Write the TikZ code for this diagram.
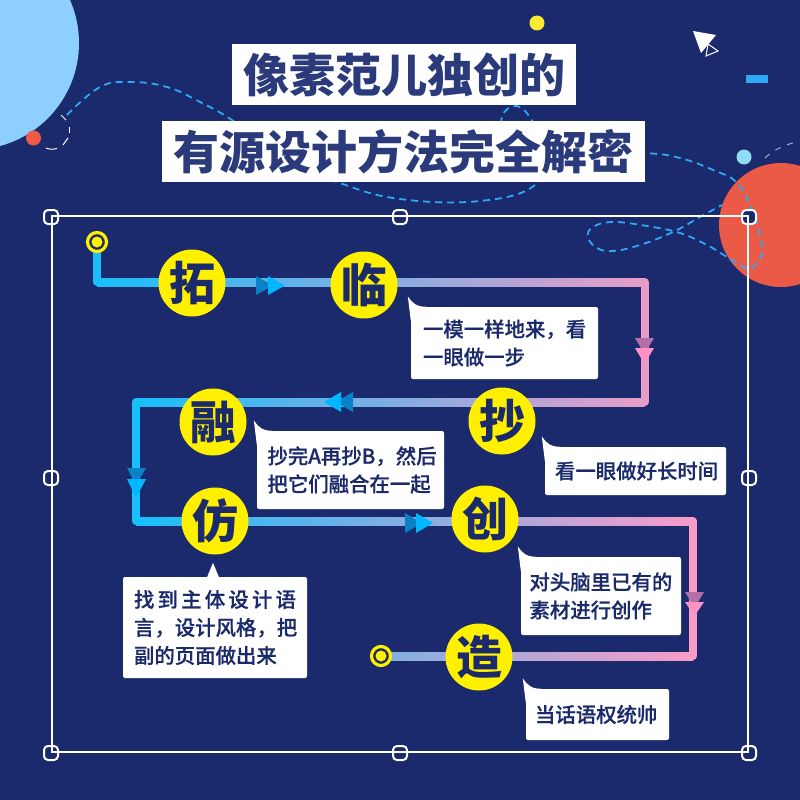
\documentclass[tikz,border=0pt]{standalone}
\usepackage{fontspec}
\setmainfont{Noto Sans CJK SC}
\newfontfamily\cjkmed[FakeBold=0.5]{Noto Sans CJK SC Medium}
\usetikzlibrary{calc}
\definecolor{bg}{HTML}{1A2A6C}
\definecolor{ink}{HTML}{1B2A6B}
\definecolor{titleink}{HTML}{2B3A7A}
\definecolor{ylw}{HTML}{FFF000}
\definecolor{cyanl}{HTML}{18BFFA}
\definecolor{pinka}{HTML}{E89CC8}
\definecolor{pinkb}{HTML}{F99CC8}
\definecolor{midb}{HTML}{7FB0E0}
\definecolor{darkarrow}{HTML}{0A82C8}
\definecolor{brightarrow}{HTML}{00B7FF}
\definecolor{darkpink}{HTML}{B56FA8}
\definecolor{brightpink}{HTML}{FF92C4}
\definecolor{dashblue}{HTML}{2FA8F5}
\definecolor{redc}{HTML}{EB5A46}
\definecolor{lightblue}{HTML}{8DCFFF}
\definecolor{dotred}{HTML}{EE5A45}
\definecolor{dotyellow}{HTML}{FFE932}
\definecolor{dotcyan}{HTML}{8EDCF5}
\tikzset{
  titlebox/.style={fill=white,inner sep=0pt,font=\fontsize{46}{46}\selectfont\bfseries,text=titleink},
  stepdot/.style={circle,fill=ylw,minimum size=67pt,inner sep=0pt,text=ink,font=\fontsize{46}{46}\selectfont\bfseries},
  endring/.style={circle,fill=bg,draw=ylw,minimum size=19pt,inner sep=0pt,line width=3.2pt},
  tipbox/.style={fill=white,rounded corners=2pt,inner sep=0pt,text=ink,align=left,font=\fontsize{20.4}{28}\selectfont\cjkmed},
  handle/.style={draw=white,fill=bg,line width=2pt,rounded corners=4pt,minimum size=14pt,inner sep=0pt},
  vline/.style={line width=8pt,line cap=round},
  dashc/.style={draw=dashblue,line width=1.8pt,dash pattern=on 7pt off 5pt},
  whitedash/.style={draw=white,line width=1pt},
}
\newcommand{\hgrad}[4]{\shade[left color=#3,right color=#4] ($(#1)+(0,-4)$) rectangle ($(#2)+(0,4)$);}
\newcommand{\tailof}[1]{\fill[white] ($(#1.north west)+(-3,-10.5)$) .. controls ($(#1.north west)+(2,-3)$) and ($(#1.north west)+(6,0)$) .. ($(#1.north west)+(16,0)$) -- ($(#1.north west)+(0,14)$) -- cycle;}
\begin{document}
\begin{tikzpicture}[x=1pt,y=-1pt]
\useasboundingbox (0,0) rectangle (800,800);
\fill[bg] (0,0) rectangle (800,800);
\begin{scope}
\clip (0,0) rectangle (800,800);
\fill[lightblue] (-27.6,43) circle (106.6);
\fill[redc] (781,225) circle (62);
\end{scope}
\fill[dotred] (33.5,138) circle (7.5);
\fill[dotyellow] (537,23) circle (7.5);
\fill[dotcyan] (744,157) circle (7.5);
\fill[dashblue] (746,75) rectangle (768,83);
% cursor
\fill[white] (693,31) -- (716,35) -- (701,53) -- cycle;
\draw[white,line width=1pt] (708,44) -- (718,51) -- (706,56) -- cycle;
% white dashes
\draw[whitedash] (61,115) -- (66,120);
\draw[whitedash] (69.5,127) -- (69.5,133);
\draw[whitedash] (68,138) -- (63,145);
\draw[whitedash] (46,148) .. controls (49,149.5) and (53,149.5) .. (57,148.5);
\draw[draw=white!60!bg,line width=1pt,dash pattern=on 6pt off 7pt] (765,158) .. controls (772,151) and (783,145) .. (797,142);
% dashed curve
\draw[dashc] plot[smooth,tension=.7] coordinates {(67,115) (100,87) (130,82) (167,87) (200,102) (232,120) (290,160) (340,183) (400,199) (480,201) (535,185) (545,150) (533,122) (517,106) (502,117) (510,140) (570,150) (645,153) (680,158) (713,170) (737,183) (753,213) (762,247) (757,263) (747,268) (727,257) (707,245) (680,233) (647,226) (613,222) (593,227) (588,237) (597,248) (613,251) (640,245) (673,232) (700,217) (722,205)};
% titles
\node[titlebox,minimum width=344pt,minimum height=61pt] (t1) at (404,74.5) {像素范儿独创的};
\node[titlebox,minimum width=483pt,minimum height=61pt] (t2) at (403.5,151.5) {有源设计方法完全解密};
% frame
\foreach \n/\p in {h1/{51,217},h2/{400,217},h3/{749,217},h4/{51,478},h5/{749,478},h6/{51,753},h7/{400,753},h8/{749,753}}
  \node[handle] (\n) at (\p) {};
\draw[white,line width=2.5pt] ($(h1.center)+(1,-1)$) rectangle ($(h8.center)+(-1,-1)$);
% route coordinates
\coordinate (a0) at (97,242);
\coordinate (a1) at (97,282);
\coordinate (a2) at (644.5,282);
\coordinate (b1) at (644.5,402);
\coordinate (b2) at (136,402);
\coordinate (c1) at (136,521);
\coordinate (c2) at (693,521);
\coordinate (d1) at (693,656);
\coordinate (d2) at (381,656);
% connectors
\draw[vline,cyanl] (a0) -- (a1);
\draw[vline,cyanl] (b2) -- (c1);
\draw[vline,pinka] (a2) -- (b1);
\draw[vline,pinkb] (c2) -- (d1);
\hgrad{a1}{a2}{cyanl}{pinka}
\hgrad{b2}{b1}{cyanl}{pinka}
\hgrad{c1}{c2}{cyanl}{pinkb}
\hgrad{d2}{d1}{midb}{pinkb}
% arrowheads
\fill[darkarrow] (256,276) -- (273,285.5) -- (256,295) -- cycle;
\fill[brightarrow] (268,276) -- (285,285.5) -- (268,295) -- cycle;
\fill[darkarrow] (353,392) -- (336,402) -- (353,412) -- cycle;
\fill[brightarrow] (341,392) -- (324,402) -- (341,412) -- cycle;
\fill[darkpink] (635,338) -- (644.5,354) -- (654,338) -- cycle;
\fill[brightpink] (635,348) -- (644.5,364) -- (654,348) -- cycle;
\fill[darkarrow] (127,468) -- (136,485) -- (146,468) -- cycle;
\fill[brightarrow] (127,479) -- (136,498) -- (146,479) -- cycle;
\fill[darkarrow] (405,513) -- (422,523) -- (405,533) -- cycle;
\fill[brightarrow] (416,513) -- (433,523) -- (416,533) -- cycle;
\fill[darkpink] (685,592) -- (694.5,608) -- (704,592) -- cycle;
\fill[brightpink] (685,602) -- (694.5,616) -- (704,602) -- cycle;
% step nodes
\node[stepdot] (tuo) at (192,283) {拓};
\node[stepdot] (lin) at (364,285) {临};
\node[stepdot] (chao) at (502,421) {抄};
\node[stepdot] (rong) at (213,422) {融};
\node[stepdot] (fang) at (215,521) {仿};
\node[stepdot] (chuang) at (485,519) {创};
\node[stepdot] (zao) at (479,657) {造};
\node[endring] (s0) at (a0) {};
\fill[ylw] (s0) circle (5.5);
\node[endring] (e0) at (d2) {};
\fill[ylw] (e0) circle (5.5);
% callouts
\node[tipbox,minimum width=187pt,minimum height=72pt,text width=163pt] (n1) at (504.5,343) {一模一样地来，看\\一眼做一步};
\node[tipbox,minimum width=187pt,minimum height=78pt,text width=166pt] (n2) at (350.5,470) {抄完A再抄B，然后\\把它们融合在一起};
\node[tipbox,minimum width=181pt,minimum height=48pt,text width=161pt] (n3) at (635.5,471) {看一眼做好长时间};
\node[tipbox,minimum width=184pt,minimum height=101pt,text width=162pt] (n4) at (215,627.5) {\makebox[162pt][s]{找\hfill 到\hfill 主\hfill 体\hfill 设\hfill 计\hfill 语}\\\makebox[162pt][s]{言\hfill ，\hfill 设\hfill 计\hfill 风\hfill 格\hfill ，\hfill 把}\\副的页面做出来};
\node[tipbox,minimum width=160pt,minimum height=78pt,text width=143pt] (n5) at (601,596) {对头脑里已有的\\素材进行创作};
\node[tipbox,minimum width=143pt,minimum height=51pt,text width=125pt] (n6) at (597.5,714.5) {当话语权统帅};
\tailof{n1}
\tailof{n2}
\tailof{n3}
\tailof{n5}
\tailof{n6}
\fill[white] ($(n4.north)+(-8,0.5)$) -- ($(n4.north)+(-2,-14)$) -- ($(n4.north)+(4,0.5)$) -- cycle;
\end{tikzpicture}
\end{document}
